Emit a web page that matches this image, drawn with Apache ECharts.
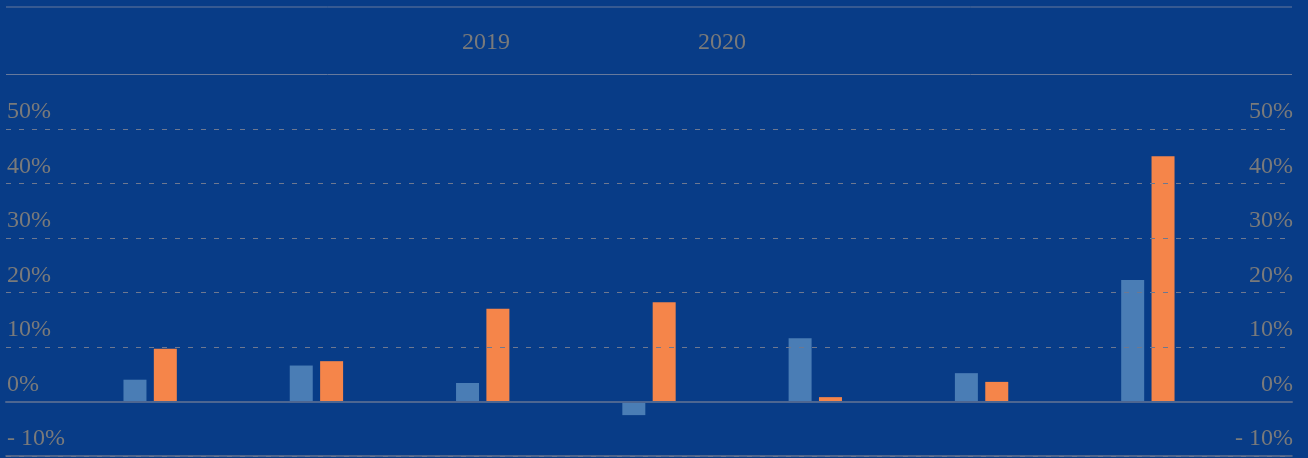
<!DOCTYPE html>
<html>
<head>
<meta charset="utf-8">
<script src="https://cdn.jsdelivr.net/npm/echarts@6/dist/echarts.min.js"></script>
<style>
html,body{margin:0;padding:0;background:#083c87;}
#c{width:1308px;height:458px;}
</style>
</head>
<body>
<div id="c"></div>
<script>
const categories = ['A', 'B', 'C', 'D', 'E', 'F', 'G'];
const values2019 = [4.0, 6.6, 3.4, -2.5, 11.6, 5.2, 22.3];
const values2020 = [9.7, 7.4, 17.0, 18.2, 0.8, 3.6, 45.0];
const seriesNames = ['2019', '2020'];
const yMin = -10, yMax = 50, yStep = 10;

const FONT = '"Liberation Serif", "DejaVu Serif", serif';
const TEXT = '#7a7a7a';
const fmt = v => (v < 0 ? '- ' + Math.abs(v) : v) + '%';

const chart = echarts.init(document.getElementById('c'), null, {renderer: 'canvas'});
const yBase = {type: 'value', min: yMin, max: yMax, interval: yStep};

chart.setOption({
  backgroundColor: '#083c87',
  animation: false,
  legend: [
    {data: [seriesNames[0]], left: 457, top: 31, padding: 0, itemWidth: 0, itemHeight: 0, icon: 'rect',
     selectedMode: false, textStyle: {color: TEXT, fontFamily: FONT, fontSize: 24, lineHeight: 24}},
    {data: [seriesNames[1]], left: 693, top: 31, padding: 0, itemWidth: 0, itemHeight: 0, icon: 'rect',
     selectedMode: false, textStyle: {color: TEXT, fontFamily: FONT, fontSize: 24, lineHeight: 24}}
  ],
  graphic: [
    {type: 'line', shape: {x1: 6, y1: 7, x2: 1292, y2: 7}, style: {stroke: '#66799c', lineWidth: 1}},
    {type: 'line', shape: {x1: 6, y1: 74.5, x2: 1292, y2: 74.5}, style: {stroke: '#66799c', lineWidth: 1}}
  ],
  grid: [
    {left: 6, right: 16, top: 129, bottom: 2},
    {left: 67, right: 77, top: 129, bottom: 2},
    {left: 6, right: 16, top: 129, bottom: 2}
  ],
  xAxis: [
    {type: 'category', gridIndex: 0, data: categories, axisLine: {onZero: false, lineStyle: {color: '#66708a', width: 1.5}},
     axisTick: {show: false}, axisLabel: {show: false}, z: 5},
    {type: 'category', gridIndex: 1, data: categories, axisLine: {show: false},
     axisTick: {show: false}, axisLabel: {show: false}},
    {type: 'category', gridIndex: 2, data: categories, axisLine: {onZero: true, lineStyle: {color: '#4d6691', width: 2}},
     axisTick: {show: false}, axisLabel: {show: false}, z: 5}
  ],
  yAxis: [
    Object.assign({}, yBase, {gridIndex: 0, position: 'left', z: 4,
      axisLine: {show: false}, axisTick: {show: false},
      splitLine: {show: true, lineStyle: {color: '#6e7890', width: 1.2, type: [5, 8]}},
      axisLabel: {inside: true, margin: 1, verticalAlign: 'bottom', padding: [0, 0, 5, 0],
        color: TEXT, fontFamily: FONT, fontSize: 24, formatter: fmt}}),
    Object.assign({}, yBase, {gridIndex: 1, show: false}),
    Object.assign({}, yBase, {gridIndex: 2, show: false}),
    Object.assign({}, yBase, {gridIndex: 0, position: 'right', z: 4,
      axisLine: {show: false}, axisTick: {show: false}, splitLine: {show: false},
      axisLabel: {inside: true, margin: -1, verticalAlign: 'bottom', padding: [0, 0, 5, 0],
        color: TEXT, fontFamily: FONT, fontSize: 24, formatter: fmt}})
  ],
  series: [
    {name: seriesNames[0], type: 'bar', xAxisIndex: 1, yAxisIndex: 1, data: values2019,
     barWidth: 23, barGap: '32%', itemStyle: {color: '#4a7db5'}, z: 2},
    {name: seriesNames[1], type: 'bar', xAxisIndex: 1, yAxisIndex: 1, data: values2020,
     barWidth: 23, barGap: '32%', itemStyle: {color: '#f5854a'}, z: 2}
  ]
});
</script>
</body>
</html>
